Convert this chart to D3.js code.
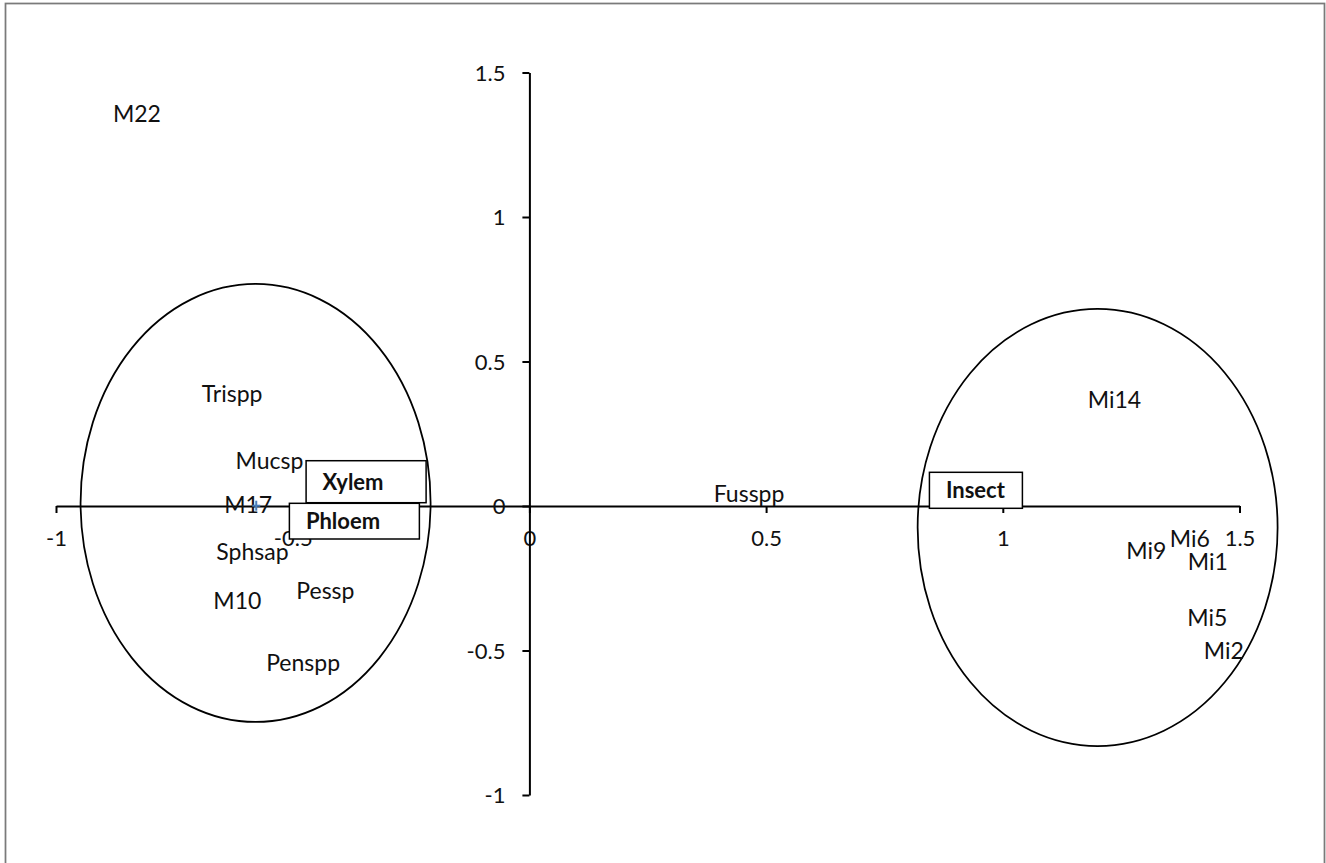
<!DOCTYPE html>
<html>
<head>
<meta charset="utf-8">
<script src="https://cdn.jsdelivr.net/npm/d3@7"></script>
<style>
  html, body { margin: 0; padding: 0; background: #fff; }
  svg { display: block; }
  text { font-family: Lato, "Liberation Sans", sans-serif; fill: #111; }
</style>
</head>
<body>
<svg id="chart" width="1326" height="863"></svg>
<script>
// ---- data ----
const labels = ["M22","Trispp","Mucsp","M17","Sphsap","M10","Pessp","Penspp","Fusspp","Mi14","Mi9","Mi6","Mi1","Mi5","Mi2"];
const xValues = [-0.829,-0.628,-0.549,-0.594,-0.585,-0.617,-0.431,-0.478,0.464,1.236,1.303,1.395,1.433,1.432,1.467];
const yValues = [1.359,0.387,0.158,0.003,-0.158,-0.328,-0.292,-0.542,0.044,0.367,-0.155,-0.112,-0.193,-0.388,-0.501];

// single visible marker (blue cross)
const markerX = [-0.577];
const markerY = [0.001];

// group annotation boxes (data coordinates)
const groupNames = ["Xylem","Phloem","Insect"];
const groupX0 = [-0.4717,-0.5070,0.8450];
const groupX1 = [-0.2182,-0.2324,1.0414];
const groupYTop = [0.1567,0.0093,0.1166];
const groupYBottom = [0.0114,-0.1142,-0.0080];

// ellipses (data coordinates)
const ellipseCX = [-0.5784, 1.2003];
const ellipseCY = [0.0104, -0.0744];
const ellipseRX = [0.3697, 0.3802];
const ellipseRY = [0.7578, 0.7561];

const xTicks = [-1,-0.5,0,0.5,1,1.5];
const yTicks = [-1,-0.5,0,0.5,1,1.5];

// ---- drawing ----
const svg = d3.select("#chart");

// chart border
svg.append("rect")
  .attr("x", 5.5).attr("y", 3.5)
  .attr("width", 1319).attr("height", 870)
  .attr("fill", "none").attr("stroke", "#7a7a7a").attr("stroke-width", 1.75);

const x = d3.scaleLinear().domain([-1, 1.5]).range([56, 1239.5]);
const y = d3.scaleLinear().domain([-1, 1.5]).range([795, 72.5]);

const fmt = d => (d === 0 ? "0" : String(d));

// x axis at y=0
const xAxis = d3.axisBottom(x).tickValues(xTicks).tickFormat(fmt).tickSize(7).tickSizeOuter(0);
const gx = svg.append("g").attr("transform", `translate(0,${y(0)})`).call(xAxis);
gx.select(".domain").attr("stroke", "#000").attr("stroke-width", 2);
gx.selectAll(".tick line").attr("stroke", "#000").attr("stroke-width", 2);
gx.selectAll(".tick text")
  .attr("y", 32).attr("dy", "0.36em")
  .style("font-size", "22px").style("font-family", "Lato, sans-serif").attr("fill", "#2a2a2a");

// y axis at x=0
const yAxis = d3.axisLeft(y).tickValues(yTicks).tickFormat(fmt).tickSize(7).tickSizeOuter(0);
const gy = svg.append("g").attr("transform", `translate(${x(0)},0)`).call(yAxis);
gy.select(".domain").attr("stroke", "#000").attr("stroke-width", 2);
gy.selectAll(".tick line").attr("stroke", "#000").attr("stroke-width", 2);
gy.selectAll(".tick text")
  .attr("x", -24).attr("dy", "0.36em")
  .style("font-size", "22px").style("font-family", "Lato, sans-serif").attr("fill", "#2a2a2a");

// ellipses
const ellData = ellipseCX.map((cx, i) => ({cx, cy: ellipseCY[i], rx: ellipseRX[i], ry: ellipseRY[i]}));
svg.append("g").selectAll("ellipse").data(ellData).join("ellipse")
  .attr("cx", d => x(d.cx))
  .attr("cy", d => y(d.cy))
  .attr("rx", d => x(d.cx + d.rx) - x(d.cx))
  .attr("ry", d => y(d.cy - d.ry) - y(d.cy))
  .attr("fill", "none").attr("stroke", "#000").attr("stroke-width", 1.75);

// point labels
const pts = labels.map((t, i) => ({t, x: xValues[i], y: yValues[i]}));
svg.append("g").selectAll("text").data(pts).join("text")
  .attr("x", d => x(d.x))
  .attr("y", d => y(d.y))
  .attr("dy", "0.36em")
  .attr("text-anchor", "middle")
  .style("font-size", "23px")
  .text(d => d.t);

// marker
const mk = markerX.map((mx, i) => ({x: mx, y: markerY[i]}));
const mg = svg.append("g").selectAll("g").data(mk).join("g")
  .attr("transform", d => `translate(${x(d.x)},${y(d.y)})`);
mg.append("line").attr("x1", -4).attr("x2", 4).attr("y1", 0).attr("y2", 0).attr("stroke", "#4a7ebb").attr("stroke-width", 2);
mg.append("line").attr("x1", 0).attr("x2", 0).attr("y1", -5).attr("y2", 5).attr("stroke", "#4a7ebb").attr("stroke-width", 2);

// group boxes
const boxes = groupNames.map((n, i) => ({n, x0: groupX0[i], x1: groupX1[i], yt: groupYTop[i], yb: groupYBottom[i]}));
const bg = svg.append("g").selectAll("g").data(boxes).join("g");
bg.append("rect")
  .attr("x", d => x(d.x0))
  .attr("y", d => y(d.yt))
  .attr("width", d => x(d.x1) - x(d.x0))
  .attr("height", d => y(d.yb) - y(d.yt))
  .attr("fill", "#fff").attr("stroke", "#000").attr("stroke-width", 1.5);
bg.append("text")
  .attr("x", d => x(d.x0) + 16.5)
  .attr("y", d => (y(d.yt) + y(d.yb)) / 2)
  .attr("dy", "0.36em")
  .style("font-size", "22px").style("font-weight", "bold")
  .text(d => d.n);
</script>
</body>
</html>
